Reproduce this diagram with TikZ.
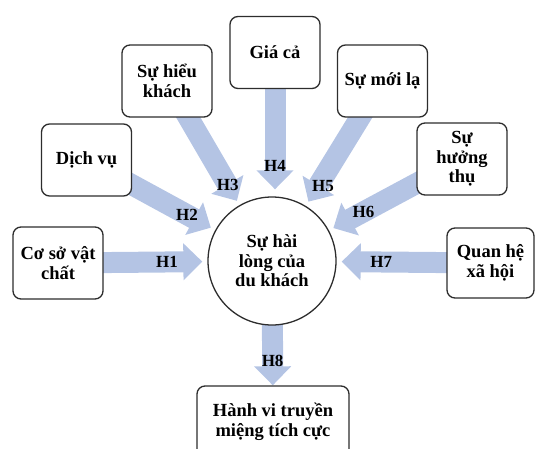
\documentclass[tikz,border=0pt]{standalone}
\usepackage{fontspec}
\setmainfont{Liberation Serif}
\usetikzlibrary{arrows.meta,backgrounds}
\definecolor{arrowblue}{RGB}{180,196,228}
\definecolor{boxline}{RGB}{45,45,45}
\begin{document}
\begin{tikzpicture}[x=1pt,y=-1pt,
  box/.style={draw=boxline,line width=1.3pt,rounded corners=8pt,fill=white,
    minimum width=#1,minimum height=72pt,inner sep=2pt,align=center,
    font=\fontsize{18.5}{19.5}\selectfont\bfseries},
  box/.default=90pt,
  hub/.style={circle,draw=boxline,line width=1.3pt,fill=white,minimum size=128pt,
    inner sep=0pt,align=center,font=\fontsize{18.5}{19.5}\selectfont\bfseries},
  blockarrow/.style={draw=arrowblue,line width=21pt,
    -{Triangle[width=36pt,length=19pt]},fill=arrowblue},
  hlabel/.style={font=\fontsize{17}{18}\selectfont\bfseries,inner sep=0pt}]
\useasboundingbox (0,0) rectangle (535,449);
\node[hub] (circ) at (272,261) {Sự hài\\lòng của\\du khách};
\node[box] (c1) at (58,263) {Cơ sở vật\\chất};
\node[box] (c2) at (86.5,160) {Dịch vụ};
\node[box] (c3) at (167,81) {Sự hiểu\\khách};
\node[box] (c4) at (275,52.5) {Giá cả};
\node[box] (c5) at (382.5,81) {Sự mới lạ};
\node[box] (c6) at (462,159) {Sự\\hưởng\\thụ};
\node[box=87pt,minimum height=70pt] (c7) at (490.5,263) {Quan hệ\\xã hội};
\node[box=152pt] (c8) at (273,422) {Hành vi truyền\\miệng tích cực};
\coordinate (c4end) at (c4.south |- circ.north);
\begin{scope}[on background layer]
\draw[blockarrow,shorten >=5pt] (c1.center) -- (circ) node[hlabel,pos=0.73] {H1};
\draw[blockarrow,shorten >=5pt] (c2.center) -- (circ) node[hlabel,pos=0.78] {H2};
\draw[blockarrow,shorten >=5pt] (c3.center) -- (circ) node[hlabel,pos=0.84] {H3};
\draw[blockarrow,shorten >=7pt] (c4.center) -- (c4end) node[hlabel,pos=0.79] {H4};
\draw[blockarrow,shorten >=5pt] (c5.center) -- (circ) node[hlabel,pos=0.84,xshift=5pt] {H5};
\draw[blockarrow,shorten >=5pt] (c6.center) -- (circ) node[hlabel,pos=0.74] {H6};
\draw[blockarrow,shorten >=5pt] (c7.center) -- (circ) node[hlabel,pos=0.71] {H7};
\draw[blockarrow] (circ.center) -- (c8) node[hlabel,pos=0.8] {H8};
\end{scope}
\end{tikzpicture}
\end{document}
